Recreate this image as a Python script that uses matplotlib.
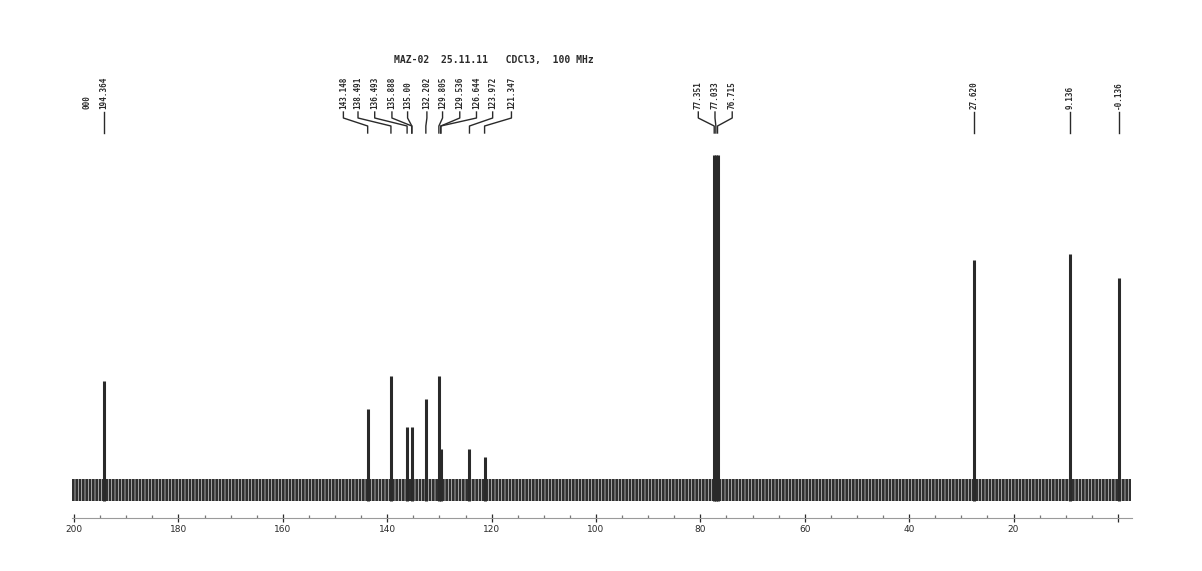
import numpy as np
import matplotlib
matplotlib.use("Agg")
import matplotlib.pyplot as plt
from matplotlib.ticker import MultipleLocator

# peak shifts (ppm) and heights
shifts = [194.364, 143.748, 139.291, 136.193, 135.288, 132.602, 130.105, 129.736,
          124.244, 121.347, 77.351, 77.033, 76.715, 27.620, 9.136, -0.136]
heights = [109, 81, 114, 63, 63, 91, 114, 41, 41, 33, 335, 335, 335, 230, 236, 212]

# printed peak labels and where their text sits (ppm)
label_text = ["000", "194.364",
              "143.148", "138.491", "136.493", "135.888", "135.00", "132.202",
              "129.805", "129.536", "126.644", "123.972", "121.347",
              "77.351", "77.033", "76.715",
              "27.620", "9.136", "-0.136"]
label_pos = [197.5, 194.364,
             148.4, 145.6, 142.4, 139.1, 136.1, 132.4, 129.4, 126.1, 122.9, 119.8, 116.2,
             80.4, 77.2, 73.9,
             27.620, 9.136, -0.136]
# ppm that each leader line points to (None = no leader)
label_target = [None, 194.364,
                143.748, 139.291, 136.193, 135.288, 135.288, 132.602, 130.105,
                129.736, 129.736, 124.244, 121.347,
                77.351, 77.033, 76.715,
                27.620, 9.136, -0.136]

title = "MAZ-02  25.11.11   CDCl3,  100 MHz"
noise_amp = 11
xticks_major = [200, 180, 160, 140, 120, 100, 80, 60, 40, 20]

fig = plt.figure(figsize=(12.02, 5.71), dpi=100)
ax = fig.add_axes([72 / 1202, 1 - 518 / 571, 1060 / 1202, 478 / 571])
ax.set_xlim(200.4, -2.7)
ax.set_ylim(-28, 450)

ink = "#2a2a2a"

# noise band along the baseline
plt.rcParams["hatch.linewidth"] = 0.5
ax.fill_between([201, -2.6], -noise_amp, noise_amp, facecolor="#2f2f2f",
                edgecolor="#d8d8d8", hatch="|||||", linewidth=0)

# peaks
ax.vlines(shifts, -noise_amp, heights, color=ink, linewidth=2.2)

# labels and leader lines
y_txt = 381
for txt, xp, tgt in zip(label_text, label_pos, label_target):
    ax.text(xp, y_txt, txt, rotation=90, ha="center", va="bottom",
            fontsize=5.5, color=ink, family="DejaVu Sans Mono", fontweight="bold")
    if tgt is None:
        continue
    ax.plot([xp, xp, tgt, tgt], [378, 372, 364, 357], color=ink, linewidth=1.0)

ax.text(119.5, 430, title, ha="center", va="center", fontsize=7,
        color=ink, family="DejaVu Sans Mono", fontweight="bold")

# bottom ppm axis
for s in ["top", "right", "left"]:
    ax.spines[s].set_visible(False)
ax.spines["bottom"].set_color("#9a9a9a")
ax.spines["bottom"].set_linewidth(0.8)
ax.set_yticks([])
ax.set_xticks(xticks_major + [0])
ax.set_xticklabels([str(t) for t in xticks_major] + [""])
ax.xaxis.set_minor_locator(MultipleLocator(5))
ax.tick_params(axis="x", which="major", direction="inout", length=6, width=0.9,
               colors=ink, labelsize=6.5, pad=2)
ax.tick_params(axis="x", which="minor", direction="in", length=2, width=0.9,
               colors="#777777")

fig.savefig("out.png", dpi=100, facecolor="white")
